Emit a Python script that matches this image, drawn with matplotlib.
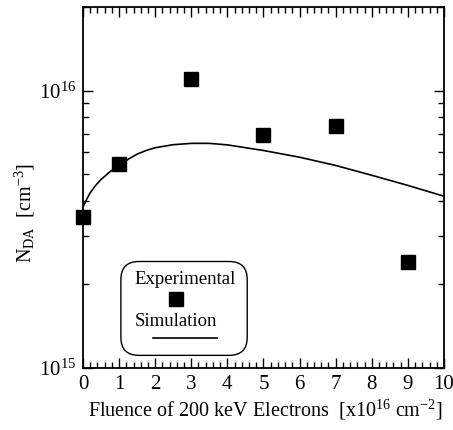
import matplotlib
matplotlib.use("Agg")
import matplotlib.pyplot as plt
from matplotlib.patches import FancyBboxPatch
from matplotlib.lines import Line2D
from matplotlib.ticker import LogLocator, NullFormatter, MultipleLocator

plt.rcParams['font.family'] = ['Liberation Serif', 'DejaVu Serif']
plt.rcParams['mathtext.fontset'] = 'custom'
plt.rcParams['mathtext.rm'] = 'Liberation Serif'
plt.rcParams['mathtext.it'] = 'Liberation Serif:italic'

# experimental points
fluence_exp = [0, 1, 3, 5, 7, 9]
nda_exp = [3.49e15, 5.42e15, 1.096e16, 6.89e15, 7.48e15, 2.41e15]

# simulation curve
fluence_sim = [0, 0.1, 0.2, 0.35, 0.5, 0.75, 1, 1.25, 1.5, 1.75, 2, 2.5, 3, 3.5, 4,
               5, 6, 7, 8, 9, 10]
nda_sim = [3.8e15, 4.05e15, 4.28e15, 4.55e15, 4.78e15, 5.1e15, 5.38e15, 5.65e15,
           5.9e15, 6.08e15, 6.22e15, 6.38e15, 6.45e15, 6.45e15, 6.37e15,
           6.08e15, 5.75e15, 5.37e15, 4.95e15, 4.55e15, 4.16e15]

fig = plt.figure(figsize=(4.53, 4.30), dpi=100)
ax = fig.add_axes([0.1832, 0.1442, 0.7968, 0.8395])

ax.plot(fluence_sim, nda_sim, color='black', lw=1.2)
ax.plot(fluence_exp, nda_exp, 's', color='black', markersize=10, clip_on=False, zorder=3)

ax.set_yscale('log')
ax.set_xlim(0, 10)
ax.set_ylim(1e15, 2e16)

ax.xaxis.set_major_locator(MultipleLocator(1))
ax.xaxis.set_minor_locator(MultipleLocator(0.2))
ax.yaxis.set_major_locator(LogLocator(base=10))
ax.yaxis.set_minor_locator(LogLocator(base=10, subs=range(2, 10)))
ax.yaxis.set_minor_formatter(NullFormatter())

ax.tick_params(which='both', direction='in', top=True, right=True, labelsize=15, width=1)
ax.tick_params(which='major', length=7)
ax.tick_params(which='minor', length=4)
ax.tick_params(axis='x', pad=5)
ax.tick_params(axis='y', pad=5)
for s in ax.spines.values():
    s.set_linewidth(1.3)

ax.set_xlabel(r"Fluence of 200 keV Electrons  [x10$^{16}$ cm$^{-2}$]", fontsize=14.5, labelpad=3,
              x=0.505)
ax.set_ylabel(r"N$_{\mathrm{DA}}$  [cm$^{-3}$]", fontsize=14.5, labelpad=1, y=0.43)

# legend box drawn by hand (label above handle)
box = FancyBboxPatch((0.105, 0.035), 0.35, 0.26, boxstyle="round,pad=0,rounding_size=0.05",
                     transform=ax.transAxes, facecolor='white', edgecolor='black', lw=1.0, zorder=4)
ax.add_patch(box)
ax.text(0.143, 0.245, "Experimental", transform=ax.transAxes, fontsize=13.5, va='center', zorder=5)
ax.add_line(Line2D([0.257], [0.19], transform=ax.transAxes, marker='s', color='black',
                   markersize=10, zorder=5))
ax.text(0.143, 0.13, "Simulation", transform=ax.transAxes, fontsize=13.5, va='center', zorder=5)
ax.add_line(Line2D([0.195, 0.372], [0.084, 0.084], transform=ax.transAxes, color='black',
                   lw=1.2, zorder=5))

fig.savefig("out.png", dpi=100)
